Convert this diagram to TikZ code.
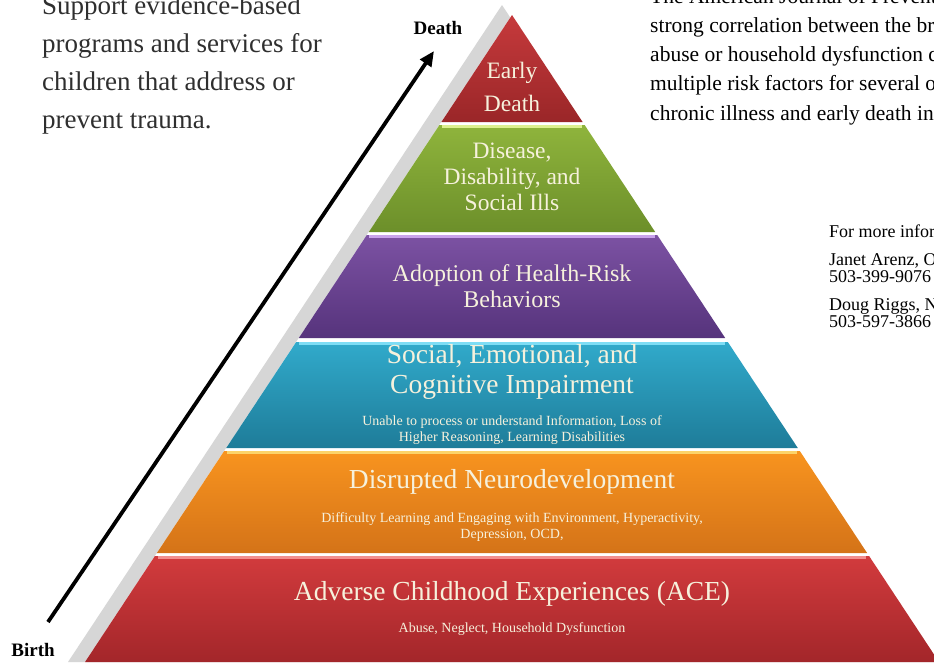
\documentclass[tikz,border=0pt]{standalone}
\usepackage{fontspec}
\setmainfont{Liberation Serif}
\usetikzlibrary{arrows.meta}
\definecolor{shadowgrey}{HTML}{D6D6D6}
\definecolor{cream}{HTML}{F6F1DC}
\definecolor{bodytext}{HTML}{2F2F2F}
\definecolor{ta}{HTML}{C63A3C}\definecolor{tab}{HTML}{9A2628}
\definecolor{tb}{HTML}{8FB43C}\definecolor{tbb}{HTML}{6C8F2A}\definecolor{tbh}{HTML}{DDF08F}
\definecolor{tc}{HTML}{7C52A3}\definecolor{tcb}{HTML}{56337C}\definecolor{tch}{HTML}{C9A3EC}
\definecolor{td}{HTML}{31AACB}\definecolor{tdb}{HTML}{1E7C99}\definecolor{tdh}{HTML}{7EDDF5}
\definecolor{te}{HTML}{F8941F}\definecolor{teb}{HTML}{D47318}\definecolor{teh}{HTML}{FCD36A}
\definecolor{tf}{HTML}{D23B3D}\definecolor{tfb}{HTML}{A3262A}\definecolor{tfh}{HTML}{F28E8E}
\begin{document}
\begin{tikzpicture}[x=1pt,y=-1pt,
  tierlabel/.style={text=cream,align=center,inner sep=0pt},
  headfont/.style={font=\fontsize{27.5}{30}\selectfont},
  smallfont/.style={font=\fontsize{14}{15.5}\selectfont},
  highlight/.style={line width=3pt,line cap=butt},
  ageline/.style={line width=3.8pt,-{Triangle[length=15pt,width=13pt]}},
  agelabel/.style={font=\bfseries\fontsize{19}{20}\selectfont,inner sep=0pt},
  para/.style={text=bodytext,align=left,inner sep=0pt,anchor=base west}]
\useasboundingbox (0,0) rectangle (934,664);
\begin{scope}
\clip (0,0) rectangle (934,664);
\fill[white] (0,0) rectangle (934,664);
% shadow and underlay
\fill[shadowgrey] (502,5) -- (68,662) -- (934,662) -- cycle;
\fill[white] (512,15) -- (85,662) -- (939,662) -- cycle;
% tiers
\shade[top color=ta,bottom color=tab] (512,15) -- (441.4,122) -- (582.6,122) -- cycle;
\shade[top color=tb,bottom color=tbb] (439.4,125) -- (368.8,232) -- (655.2,232) -- (584.6,125) -- cycle;
\draw[highlight,tbh] (442,126.5) -- (582,126.5);
\shade[top color=tc,bottom color=tcb] (366.8,235) -- (298.8,338) -- (725.2,338) -- (657.2,235) -- cycle;
\draw[highlight,tch] (369,236.5) -- (655,236.5);
\shade[top color=td,bottom color=tdb] (296.2,342) -- (226.2,448) -- (797.8,448) -- (727.8,342) -- cycle;
\draw[highlight,tdh] (299,343.5) -- (725,343.5);
\shade[top color=te,bottom color=teb] (224.2,451) -- (156.9,553) -- (867.1,553) -- (799.8,451) -- cycle;
\draw[highlight,teh] (227,452.5) -- (797,452.5);
\shade[top color=tf,bottom color=tfb] (154.9,556) -- (85,662) -- (939,662) -- (869.1,556) -- cycle;
\draw[highlight,tfh] (158,557.5) -- (866,557.5);
% tier labels
\node[tierlabel,font=\fontsize{23.5}{33}\selectfont] (early) at (512,87) {Early\\Death};
\node[tierlabel,font=\fontsize{23.5}{26}\selectfont] (disease) at (512,177) {Disease,\\Disability, and\\Social Ills};
\node[tierlabel,font=\fontsize{24}{26}\selectfont] (adoption) at (512,286) {Adoption of Health-Risk\\Behaviors};
\node[tierlabel,headfont] (social) at (512,372) {Social, Emotional, and\\Cognitive Impairment};
\node[tierlabel,smallfont] (socialsub) at (512,430) {Unable to process or understand Information, Loss of\\Higher Reasoning, Learning Disabilities};
\node[tierlabel,headfont] (neuro) at (512,482) {Disrupted Neurodevelopment};
\node[tierlabel,smallfont] (neurosub) at (512,527) {Difficulty Learning and Engaging with Environment, Hyperactivity,\\Depression, OCD,};
\node[tierlabel,headfont] (ace) at (512,594) {Adverse Childhood Experiences (ACE)};
\node[tierlabel,smallfont] (acesub) at (512,629) {Abuse, Neglect, Household Dysfunction};
% age arrow
\coordinate (birthpt) at (48,622);
\coordinate (deathpt) at (434,51);
\draw[ageline] (birthpt) -- (deathpt);
\node[agelabel] (deathlabel) at (438,28) {Death};
\node[agelabel] (birthlabel) at (33,650) {Birth};
% texts
\node[para,font=\fontsize{27}{37.7}\selectfont] (support) at (42,128) {Support evidence-based\\programs and services for\\children that address or\\prevent trauma.};
\node[para,font=\fontsize{21.5}{29.25}\selectfont,text=black] (study) at (650,120) {The American Journal of Preventive Medicine found a\\strong correlation between the breadth of exposure to\\abuse or household dysfunction during childhood and\\multiple risk factors for several of the leading causes of\\chronic illness and early death in adults.};
\node[para,font=\fontsize{18}{17}\selectfont,text=black] (info) at (829,237) {For more information};
\node[para,font=\fontsize{18}{17}\selectfont,text=black] (janet) at (829,282) {Janet Arenz, Oregon\\503-399-9076};
\node[para,font=\fontsize{18}{17}\selectfont,text=black] (doug) at (829,327) {Doug Riggs, Northwest\\503-597-3866};
\end{scope}
\end{tikzpicture}
\end{document}
